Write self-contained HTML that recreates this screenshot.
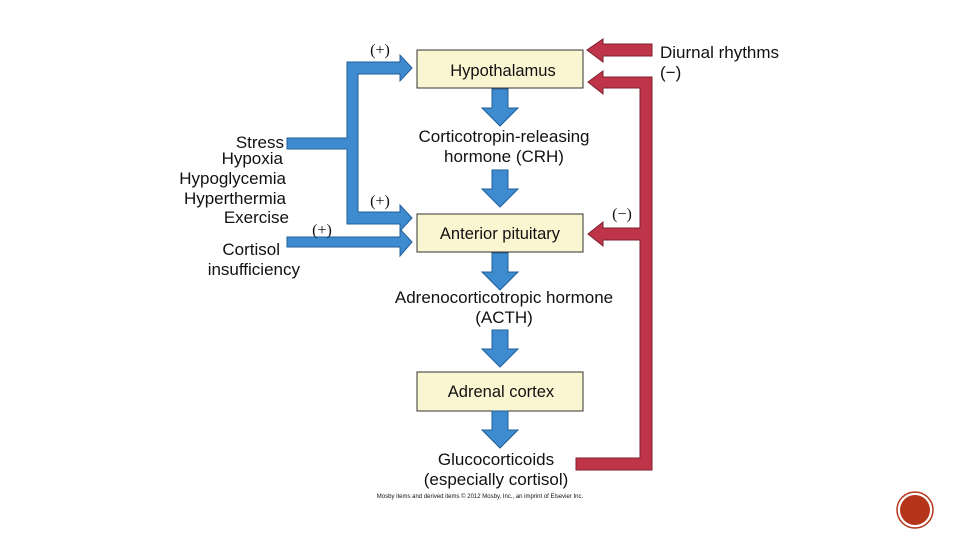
<!DOCTYPE html>
<html><head><meta charset="utf-8"><style>
html,body{margin:0;padding:0;background:#fff;}
svg{display:block;}
text{font-family:"Liberation Sans",Arial,sans-serif;fill:#111;}
</style></head><body>
<svg width="960" height="540" viewBox="0 0 960 540" xmlns="http://www.w3.org/2000/svg">
<defs>
<g id="down"><polygon points="-8,0 8,0 8,19 18,19 0,37 -18,19 -8,19" fill="#3f8bcf" stroke="#1f5f99" stroke-width="1"/></g>
</defs>
<rect x="417" y="50" width="166" height="38" fill="#fbf6d2" stroke="#333" stroke-width="1"/>
<rect x="417" y="214" width="166" height="38" fill="#fbf6d2" stroke="#333" stroke-width="1"/>
<rect x="417" y="372" width="166" height="39" fill="#fbf6d2" stroke="#333" stroke-width="1"/>
<text x="503" y="76" font-size="16.5" text-anchor="middle">Hypothalamus</text>
<text x="500" y="239" font-size="16.5" text-anchor="middle">Anterior pituitary</text>
<text x="501" y="397" font-size="16.5" text-anchor="middle">Adrenal cortex</text>
<g transform="translate(500,89)"><use href="#down"/></g>
<g transform="translate(500,170)"><use href="#down"/></g>
<g transform="translate(500,253)"><use href="#down"/></g>
<g transform="translate(500,330)"><use href="#down"/></g>
<g transform="translate(500,411)"><use href="#down"/></g>
<g font-size="17" text-anchor="middle">
<text x="504" y="142">Corticotropin-releasing</text>
<text x="504" y="162">hormone (CRH)</text>
<text x="504" y="303">Adrenocorticotropic hormone</text>
<text x="504" y="323">(ACTH)</text>
<text x="496" y="465">Glucocorticoids</text>
<text x="496" y="485">(especially cortisol)</text>
</g>
<text x="480" y="498" font-size="6" text-anchor="middle" fill="#333">Mosby items and derived items © 2012 Mosby, Inc., an imprint of Elsevier Inc.</text>
<polygon points="287,138 347,138 347,62 400,62 400,55 412,68 400,81 400,74 358,74 358,212 400,212 400,205 412,218 400,231 400,224 347,224 347,149 287,149" fill="#3f8bcf" stroke="#1f5f99" stroke-width="1"/>
<polygon points="287,237 400,237 400,229 412,242 400,256 400,247 287,247" fill="#3f8bcf" stroke="#1f5f99" stroke-width="1"/>
<polygon points="652,44 603,44 603,39 587,50 603,62 603,56 652,56" fill="#bf3448" stroke="#7d1f2c" stroke-width="1"/>
<polygon points="652,77 603,77 603,71 588,82 603,94 603,88 640,88 640,228 603,228 603,222 588,234 603,246 603,240 640,240 640,458 576,458 576,470 652,470" fill="#bf3448" stroke="#7d1f2c" stroke-width="1"/>
<g font-size="16" text-anchor="middle" font-family="Liberation Serif, serif">
<text x="380" y="55" style="font-family:'Liberation Serif',serif">(+)</text>
<text x="380" y="206" style="font-family:'Liberation Serif',serif">(+)</text>
<text x="322" y="235" style="font-family:'Liberation Serif',serif">(+)</text>
<text x="622" y="219" style="font-family:'Liberation Serif',serif">(−)</text>
</g>
<text x="660" y="58" font-size="17">Diurnal rhythms</text>
<text x="660" y="78" font-size="17">(−)</text>
<g font-size="17" text-anchor="end">
<text x="284" y="148">Stress</text>
<text x="283" y="164">Hypoxia</text>
<text x="286" y="184">Hypoglycemia</text>
<text x="286" y="204">Hyperthermia</text>
<text x="289" y="223">Exercise</text>
<text x="280" y="255">Cortisol</text>
<text x="300" y="275">insufficiency</text>
</g>
<circle cx="915" cy="510" r="18" fill="none" stroke="#b5351a" stroke-width="1.5"/>
<circle cx="915" cy="510" r="15" fill="#b5351a"/>
</svg>
</body></html>
